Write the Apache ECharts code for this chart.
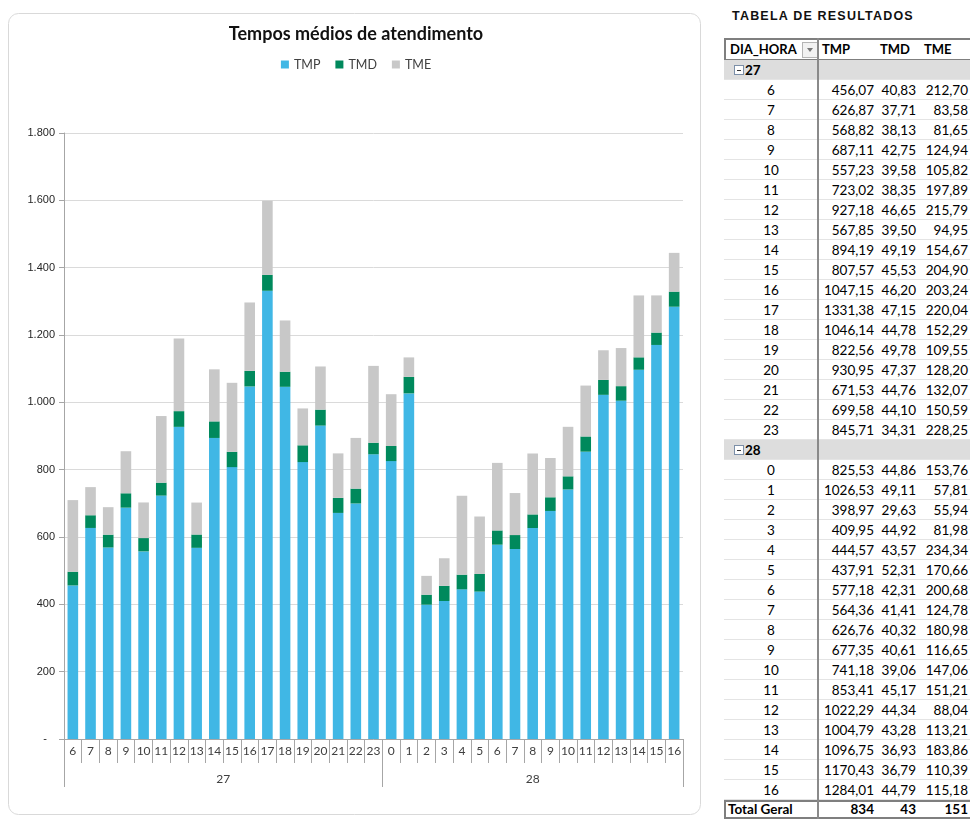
<!DOCTYPE html>
<html><head><meta charset="utf-8">
<script src="https://cdn.jsdelivr.net/npm/echarts@6/dist/echarts.min.js"></script>
<style>
body{margin:0;background:#fff;width:970px;height:819px;overflow:hidden;position:relative;font-family:Lato,"Open Sans",sans-serif;}
#chart{position:absolute;left:0;top:0;width:712px;height:819px;}
#ttl{position:absolute;left:732px;top:9px;font-family:"Liberation Sans",Arial,sans-serif;font-weight:900;font-size:12.5px;letter-spacing:1.2px;color:#111;}
#tbl{position:absolute;left:724px;top:38px;width:246px;height:781px;font-size:13.5px;color:#000;}
.row{position:absolute;left:0;width:246px;height:20px;line-height:20px;border-bottom:1px solid #E4E4E4;box-sizing:border-box;}
.grp{background:#DDDDDD;font-weight:bold;}
.c{position:absolute;top:0;white-space:nowrap;}
.c0{left:0;width:94px;text-align:center;}
.c1{left:94px;width:56px;text-align:right;}
.c2{left:150px;width:42px;text-align:right;}
.c3{left:192px;width:52px;text-align:right;}
.minus{position:absolute;left:10px;top:5px;width:8px;height:8px;border:1px solid #7C8FA8;background:#fff;}
.minus:after{content:"";position:absolute;left:2px;top:3.5px;width:4px;height:1px;background:#333;}
#hdr{position:absolute;left:0;top:0;width:246px;height:23px;border:2px solid #7F7F7F;border-right:none;box-sizing:border-box;background:#fff;font-weight:bold;font-size:13px;line-height:19px;}
#vline{position:absolute;left:93px;top:0;width:2px;height:781px;background:#8A8A8A;}
#tot{position:absolute;left:0;top:762px;width:246px;height:19px;border:2px solid #7F7F7F;border-right:none;box-sizing:border-box;font-weight:bold;line-height:15px;background:#fff;}
.dd{position:absolute;left:76px;top:2px;width:14px;height:14px;border:1px solid #B5B5B5;background:#F2F2F2;}
.dd:after{content:"";position:absolute;left:3.5px;top:5px;border-left:3.5px solid transparent;border-right:3.5px solid transparent;border-top:4px solid #777;}
</style>
</head><body>
<div id="chart"></div>
<div id="ttl"></div>
<div id="tbl"></div>
<script>
// ---- data ----
const chartTitle = 'Tempos médios de atendimento';
const seriesNames = ['TMP', 'TMD', 'TME'];
const days = ['27', '28'];
const hours27 = ['6','7','8','9','10','11','12','13','14','15','16','17','18','19','20','21','22','23'];
const hours28 = ['0','1','2','3','4','5','6','7','8','9','10','11','12','13','14','15','16'];
const TMP27 = [456.07, 626.87, 568.82, 687.11, 557.23, 723.02, 927.18, 567.85, 894.19, 807.57, 1047.15, 1331.38, 1046.14, 822.56, 930.95, 671.53, 699.58, 845.71];
const TMD27 = [40.83, 37.71, 38.13, 42.75, 39.58, 38.35, 46.65, 39.50, 49.19, 45.53, 46.20, 47.15, 44.78, 49.78, 47.37, 44.76, 44.10, 34.31];
const TME27 = [212.70, 83.58, 81.65, 124.94, 105.82, 197.89, 215.79, 94.95, 154.67, 204.90, 203.24, 220.04, 152.29, 109.55, 128.20, 132.07, 150.59, 228.25];
const TMP28 = [825.53, 1026.53, 398.97, 409.95, 444.57, 437.91, 577.18, 564.36, 626.76, 677.35, 741.18, 853.41, 1022.29, 1004.79, 1096.75, 1170.43, 1284.01];
const TMD28 = [44.86, 49.11, 29.63, 44.92, 43.57, 52.31, 42.31, 41.41, 40.32, 40.61, 39.06, 45.17, 44.34, 43.28, 36.93, 36.79, 44.79];
const TME28 = [153.76, 57.81, 55.94, 81.98, 234.34, 170.66, 200.68, 124.78, 180.98, 116.65, 147.06, 151.21, 88.04, 113.21, 183.86, 110.39, 115.18];
const totalLabel = 'Total Geral';
const totals = ['834', '43', '151'];
const tableTitle = 'TABELA DE RESULTADOS';
const tableHeaders = ['DIA_HORA', 'TMP', 'TMD', 'TME'];
const yTicks = { min: 0, max: 1800, interval: 200 };
const colors = ['#40B7E5', '#00895C', '#C8C8C8'];

// ---- chart ----
const hourLabels = hours27.concat(hours28);
const tmp = TMP27.concat(TMP28), tmd = TMD27.concat(TMD28), tme = TME27.concat(TME28);
const groups = [hours27.length, hours28.length];
const bounds = [0]; groups.forEach(g => bounds.push(bounds[bounds.length - 1] + g));
const mids = groups.map((g, i) => bounds[i] + g / 2);
const N = hourLabels.length;
const axisGray = '#A6A6A6';
const fmt = v => String(v).replace(/\B(?=(\d{3})+(?!\d))/g, '.');

const chart = echarts.init(document.getElementById('chart'), null, { renderer: 'canvas' });
chart.setOption({
  animation: false,
  color: colors,
  graphic: [{ type: 'rect', silent: true, z: -10,
    shape: { x: 8.5, y: 13.5, width: 692, height: 801, r: 10 },
    style: { fill: '#fff', stroke: '#D9D9D9', lineWidth: 1 } }],
  title: { text: chartTitle, left: 'center', top: 20,
    textStyle: { fontFamily: 'Lato', fontWeight: 'bold', fontSize: 18, color: '#111' } },
  legend: { top: 53, left: 'center', icon: 'rect', itemWidth: 8, itemHeight: 8, itemGap: 15,
    textStyle: { fontFamily: 'Lato', fontSize: 12.5, color: '#404040' }, data: seriesNames },
  grid: { left: 64, right: 712 - 683, top: 133, bottom: 80 },
  xAxis: [
    { type: 'category', data: hourLabels, position: 'bottom',
      axisLine: { lineStyle: { color: axisGray } },
      axisTick: { show: true, interval: 0, length: 24, lineStyle: { color: axisGray } },
      axisLabel: { interval: 0, margin: 6, fontFamily: 'Lato', fontSize: 12, color: '#404040' } },
    { type: 'value', min: 0, max: N, position: 'bottom',
      axisLine: { show: false }, splitLine: { show: false },
      axisTick: { show: true, length: 48, customValues: bounds, lineStyle: { color: axisGray } },
      axisLabel: { show: true, margin: 34, customValues: mids, fontFamily: 'Lato', fontSize: 12, color: '#404040',
        formatter: v => { const i = mids.indexOf(v); return i >= 0 ? days[i] : ''; } } }
  ],
  yAxis: { type: 'value', min: yTicks.min, max: yTicks.max, interval: yTicks.interval,
    axisLine: { show: true, lineStyle: { color: axisGray } },
    axisTick: { show: true, length: 5, lineStyle: { color: axisGray } },
    splitLine: { lineStyle: { color: '#DADADA' } },
    axisLabel: { margin: 9, fontFamily: 'Liberation Sans', fontSize: 11, color: '#262626',
      formatter: v => v === 0 ? '{d|-}' : fmt(v),
      rich: { d: { padding: [0, 8, 0, 0], fontSize: 11, color: '#262626' } } } },
  series: [
    { name: seriesNames[0], type: 'bar', stack: 's', data: tmp, barCategoryGap: '40%' },
    { name: seriesNames[1], type: 'bar', stack: 's', data: tmd },
    { name: seriesNames[2], type: 'bar', stack: 's', data: tme }
  ]
});

// ---- table ----
document.getElementById('ttl').textContent = tableTitle;
const tbl = document.getElementById('tbl');
const f2 = v => v.toFixed(2).replace('.', ',');
let html = '<div id="hdr"><span class="c" style="left:4px">' + tableHeaders[0] + '</span><span class="dd"></span>' +
  '<span class="c" style="left:96px">' + tableHeaders[1] + '</span>' +
  '<span class="c" style="left:154px">' + tableHeaders[2] + '</span>' +
  '<span class="c" style="left:198px">' + tableHeaders[3] + '</span></div>';
let r = 0;
const rowTop = i => 22 + i * 20;
const dayData = [[hours27, TMP27, TMD27, TME27], [hours28, TMP28, TMD28, TME28]];
dayData.forEach((d, di) => {
  html += '<div class="row grp" style="top:' + rowTop(r++) + 'px"><span class="minus"></span><span class="c" style="left:21px">' + days[di] + '</span></div>';
  d[0].forEach((h, i) => {
    html += '<div class="row" style="top:' + rowTop(r++) + 'px"><span class="c c0">' + h + '</span>' +
      '<span class="c c1">' + f2(d[1][i]) + '</span><span class="c c2">' + f2(d[2][i]) + '</span><span class="c c3">' + f2(d[3][i]) + '</span></div>';
  });
});
html += '<div id="tot"><span class="c" style="left:2px">' + totalLabel + '</span><span class="c c1" style="left:92px">' + totals[0] +
  '</span><span class="c c2" style="left:148px">' + totals[1] + '</span><span class="c c3" style="left:190px">' + totals[2] + '</span></div>';
html += '<div id="vline"></div>';
tbl.innerHTML = html;
</script>
</body></html>
